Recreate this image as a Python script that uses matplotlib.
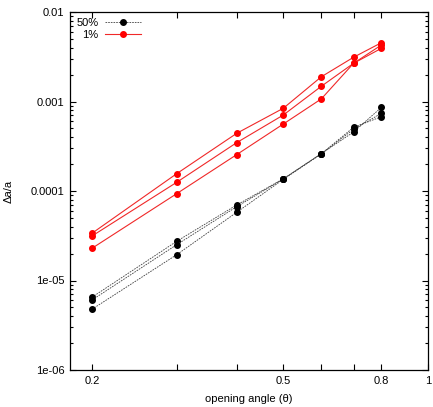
import numpy as np
import matplotlib
matplotlib.use('Agg')
import matplotlib.pyplot as plt
from matplotlib.ticker import FixedLocator, FixedFormatter, LogLocator, NullFormatter

plt.rcParams['font.family'] = ['Liberation Sans', 'DejaVu Sans']
plt.rcParams['font.size'] = 8

# opening angles
theta = [0.2, 0.3, 0.4, 0.5, 0.6, 0.7, 0.8]

# 50% runs (black, dotted)
black_a = [6.5e-6, 2.74e-5, 6.98e-5, 1.37e-4, 2.62e-4, 4.56e-4, 8.6e-4]
black_b = [6.05e-6, 2.51e-5, 6.68e-5, 1.36e-4, 2.61e-4, 4.89e-4, 7.38e-4]
black_c = [4.77e-6, 1.94e-5, 5.78e-5, 1.35e-4, 2.60e-4, 5.15e-4, 6.76e-4]

# 1% runs (red, solid)
red_a = [3.37e-5, 1.56e-4, 4.41e-4, 8.4e-4, 1.89e-3, 3.12e-3, 4.54e-3]
red_b = [3.14e-5, 1.25e-4, 3.47e-4, 7.06e-4, 1.48e-3, 2.67e-3, 4.28e-3]
red_c = [2.29e-5, 9.33e-5, 2.55e-4, 5.6e-4, 1.07e-3, 2.67e-3, 3.93e-3]

xticks = [0.2, 0.3, 0.4, 0.5, 0.6, 0.7, 0.8, 1.0]
xlabels = ['0.2', '', '', '0.5', '', '', '0.8', '1']
yticks = [1e-6, 1e-5, 1e-4, 1e-3, 1e-2]
ylabels = ['1e-06', '1e-05', '0.0001', '0.001', '0.01']

fig = plt.figure(figsize=(4.33, 4.07), dpi=100)
ax = fig.add_axes([70/433, 37/407, 358/433, 358/407])

bstyle = dict(color='0.25', linestyle=(0, (2, 1.2)), linewidth=0.6,
              marker='o', markersize=4, markerfacecolor='black',
              markeredgecolor='black')
rstyle = dict(color='#f02828', linestyle='-', linewidth=0.8,
              marker='o', markersize=4, markerfacecolor='#ff0000',
              markeredgecolor='#ff0000')

ax.plot(theta, black_a, label='50%', **bstyle)
ax.plot(theta, black_b, **bstyle)
ax.plot(theta, black_c, **bstyle)
ax.plot(theta, red_a, label='1%', **rstyle)
ax.plot(theta, red_b, **rstyle)
ax.plot(theta, red_c, **rstyle)

ax.set_xscale('log')
ax.set_yscale('log')
ax.set_xlim(0.18, 1.0)
ax.set_ylim(1e-6, 1e-2)

ax.xaxis.set_major_locator(FixedLocator(xticks))
ax.xaxis.set_major_formatter(FixedFormatter(xlabels))
ax.xaxis.set_minor_locator(FixedLocator([]))
ax.yaxis.set_major_locator(FixedLocator(yticks))
ax.yaxis.set_major_formatter(FixedFormatter(ylabels))
ax.yaxis.set_minor_locator(LogLocator(base=10, subs=np.arange(2, 10)))
ax.yaxis.set_minor_formatter(NullFormatter())

ax.tick_params(which='both', direction='in', top=True, right=True, width=0.8)
ax.tick_params(which='major', length=4, pad=4)
ax.tick_params(which='minor', length=2)
for s in ax.spines.values():
    s.set_linewidth(0.9)

ax.set_xlabel('opening angle (\u03b8)', labelpad=6)
ax.set_ylabel('\u0394a/a', labelpad=12)

ax.legend(loc='upper left', bbox_to_anchor=(0.012, 0.99), frameon=False,
          markerfirst=False, handlelength=3.2, handletextpad=0.6,
          borderaxespad=0, labelspacing=0.2, borderpad=0.2)

fig.savefig('out.png', dpi=100)
